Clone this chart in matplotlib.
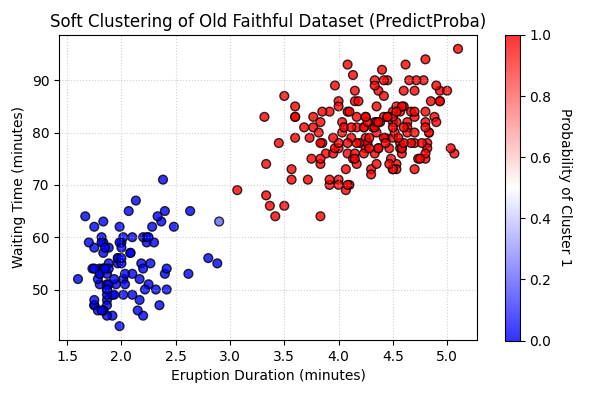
import matplotlib
matplotlib.use("Agg")
import matplotlib.pyplot as plt
import numpy as np

eruptions = [
    3.600, 1.800, 3.333, 2.283, 4.533, 2.883, 4.700, 3.600, 1.950, 4.350,
    1.833, 3.917, 4.200, 1.750, 4.700, 2.167, 1.750, 4.800, 1.600, 4.250,
    1.800, 1.750, 3.450, 3.067, 4.533, 3.600, 1.967, 4.083, 3.850, 4.433,
    4.300, 4.467, 3.367, 4.033, 3.833, 2.017, 1.867, 4.833, 1.833, 4.783,
    4.350, 1.883, 4.567, 1.750, 4.533, 3.317, 3.833, 2.100, 4.633, 2.000,
    4.800, 4.716, 1.833, 4.833, 1.733, 4.883, 3.717, 1.667, 4.567, 4.317,
    2.233, 4.500, 1.750, 4.800, 1.817, 4.400, 4.167, 4.700, 2.067, 4.700,
    4.033, 1.967, 4.500, 4.000, 1.983, 5.067, 2.017, 4.567, 3.883, 3.600,
    4.133, 4.333, 4.100, 2.633, 4.067, 4.933, 3.950, 4.517, 2.167, 4.000,
    2.200, 4.333, 1.867, 4.817, 1.833, 4.300, 4.667, 3.750, 1.867, 4.900,
    2.483, 4.367, 2.100, 4.500, 4.050, 1.867, 4.700, 1.783, 4.850, 3.683,
    4.733, 2.300, 4.900, 4.417, 1.700, 4.633, 2.317, 4.600, 1.817, 4.417,
    2.617, 4.067, 4.250, 1.967, 4.600, 3.767, 1.917, 4.500, 2.267, 4.650,
    1.867, 4.167, 2.800, 4.333, 1.833, 4.383, 1.883, 4.933, 2.033, 3.733,
    4.233, 2.233, 4.533, 4.817, 4.333, 1.983, 4.633, 2.017, 5.100, 1.800,
    5.033, 4.000, 2.400, 4.600, 3.567, 4.000, 4.500, 4.083, 1.800, 3.967,
    2.200, 4.150, 2.000, 3.833, 3.500, 4.583, 2.367, 5.000, 1.933, 4.617,
    1.917, 2.083, 4.583, 3.333, 4.167, 4.333, 4.500, 2.417, 4.000, 4.167,
    1.883, 4.583, 4.250, 3.767, 2.033, 4.433, 4.083, 1.833, 4.417, 2.183,
    4.800, 1.833, 4.800, 4.100, 3.966, 4.233, 3.500, 4.366, 2.250, 4.667,
    2.100, 4.350, 4.133, 1.867, 4.600, 1.783, 4.367, 3.850, 1.933, 4.500,
    2.383, 4.700, 1.867, 3.833, 3.417, 4.233, 2.400, 4.800, 2.000, 4.150,
    1.867, 4.267, 1.750, 4.483, 4.000, 4.117, 4.083, 4.267, 3.917, 4.550,
    4.083, 2.417, 4.183, 2.217, 4.450, 1.883, 1.850, 4.283, 3.950, 2.333,
    4.150, 2.350, 4.933, 2.900, 4.583, 3.833, 2.083, 4.367, 2.133, 4.350,
    2.200, 4.450, 3.567, 4.500, 4.150, 3.817, 3.917, 4.450, 2.000, 4.283,
    4.767, 4.533, 1.850, 4.250, 1.983, 2.250, 4.750, 4.117, 2.150, 4.417,
    1.817, 4.467,
]

waiting = [
    79, 54, 74, 62, 85, 55, 88, 85, 51, 85,
    54, 84, 78, 47, 83, 52, 62, 84, 52, 79,
    51, 47, 78, 69, 74, 83, 55, 76, 78, 79,
    73, 77, 66, 80, 74, 52, 48, 80, 59, 90,
    80, 58, 84, 58, 73, 83, 64, 53, 82, 59,
    75, 90, 54, 80, 54, 83, 71, 64, 77, 81,
    59, 84, 48, 82, 60, 92, 78, 78, 65, 73,
    82, 56, 79, 71, 62, 76, 60, 78, 76, 83,
    75, 82, 70, 65, 73, 88, 76, 80, 48, 86,
    60, 90, 50, 78, 63, 72, 84, 75, 51, 82,
    62, 88, 49, 83, 81, 47, 84, 52, 86, 81,
    75, 59, 89, 79, 59, 81, 50, 85, 59, 87,
    53, 69, 77, 56, 88, 81, 45, 82, 55, 90,
    45, 83, 56, 89, 46, 82, 51, 86, 53, 79,
    81, 60, 82, 77, 76, 59, 80, 49, 96, 53,
    77, 77, 65, 81, 71, 70, 81, 93, 53, 89,
    45, 86, 58, 78, 66, 76, 63, 88, 52, 93,
    49, 57, 77, 68, 81, 81, 73, 50, 85, 74,
    55, 77, 83, 83, 51, 78, 84, 46, 83, 55,
    81, 57, 76, 84, 77, 81, 87, 77, 51, 78,
    60, 82, 91, 53, 78, 46, 77, 84, 49, 83,
    71, 80, 49, 75, 64, 76, 53, 94, 55, 76,
    50, 82, 54, 75, 78, 79, 78, 78, 70, 79,
    70, 54, 86, 50, 90, 54, 54, 77, 79, 64,
    75, 47, 86, 63, 85, 82, 57, 82, 67, 74,
    54, 83, 73, 73, 88, 80, 71, 83, 56, 79,
    78, 84, 58, 83, 43, 60, 75, 81, 46, 90,
    46, 74,
]

prob_cluster1 = [
    1, 0, 1, 0, 1, 0, 1, 1, 0, 1,
    0, 1, 1, 0, 1, 0, 0, 1, 0, 1,
    0, 0, 1, 1, 1, 1, 0, 1, 1, 1,
    1, 1, 1, 1, 1, 0, 0, 1, 0, 1,
    1, 0, 1, 0, 1, 1, 1, 0, 1, 0,
    1, 1, 0, 1, 0, 1, 1, 0, 1, 1,
    0, 1, 0, 1, 0, 1, 1, 1, 0, 1,
    1, 0, 1, 1, 0, 1, 0, 1, 1, 1,
    1, 1, 1, 0, 1, 1, 1, 1, 0, 1,
    0, 1, 0, 1, 0, 1, 1, 1, 0, 1,
    0, 1, 0, 1, 1, 0, 1, 0, 1, 1,
    1, 0, 1, 1, 0, 1, 0, 1, 0, 1,
    0, 1, 1, 0, 1, 1, 0, 1, 0, 1,
    0, 1, 0, 1, 0, 1, 0, 1, 0, 1,
    1, 0, 1, 1, 1, 0, 1, 0, 1, 0,
    1, 1, 0, 1, 1, 1, 1, 1, 0, 1,
    0, 1, 0, 1, 1, 1, 0, 1, 0, 1,
    0, 0, 1, 1, 1, 1, 1, 0, 1, 1,
    0, 1, 1, 1, 0, 1, 1, 0, 1, 0,
    1, 0, 1, 1, 1, 1, 1, 1, 0, 1,
    0, 1, 1, 0, 1, 0, 1, 1, 0, 1,
    0, 1, 0, 1, 1, 1, 0, 1, 0, 1,
    0, 1, 0, 1, 1, 1, 1, 1, 1, 1,
    1, 0, 1, 0, 1, 0, 0, 1, 1, 0,
    1, 0, 1, 0.2, 1, 1, 0, 1, 0, 1,
    0, 1, 1, 1, 1, 1, 1, 1, 0, 1,
    1, 1, 0, 1, 0, 0, 1, 1, 0, 1,
    0, 1,
]

W, H = 592, 393
fig = plt.figure(figsize=(W / 100, H / 100), dpi=100)
ax = fig.add_axes([59 / W, (H - 340) / H, (477 - 59) / W, (340 - 35) / H])
cax = fig.add_axes([504.5 / W, (H - 340.5) / H, 15 / W, (340.5 - 35) / H])
sc = ax.scatter(eruptions, waiting, c=prob_cluster1, cmap="bwr", vmin=0, vmax=1,
                edgecolors="black", alpha=0.8, s=40)
cbar = fig.colorbar(sc, cax=cax)
cbar.set_label("Probability of Cluster 1", rotation=270, labelpad=15)
ax.set_title("Soft Clustering of Old Faithful Dataset (PredictProba)")
ax.set_xlabel("Eruption Duration (minutes)")
ax.set_ylabel("Waiting Time (minutes)")
ax.grid(True, linestyle=":", alpha=0.6)
fig.savefig("out.png", dpi=100)
